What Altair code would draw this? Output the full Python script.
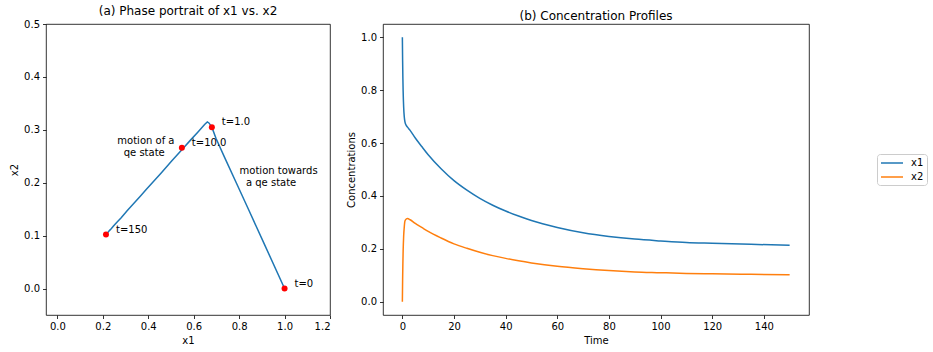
import altair as alt
import pandas as pd

# Time samples and concentration values
t = [0, 0.1, 0.2, 0.3, 0.5, 0.75, 1.0, 1.5, 2, 3, 5, 7.5, 10, 15, 20, 25, 30, 35,
     40, 45, 50, 60, 70, 80, 90, 100, 110, 120, 135, 150]
x1 = [1.0, 0.911, 0.845, 0.797, 0.736, 0.698, 0.68, 0.667, 0.66, 0.648, 0.619,
      0.587, 0.556, 0.503, 0.458, 0.422, 0.391, 0.365, 0.343, 0.324, 0.307,
      0.281, 0.261, 0.247, 0.237, 0.23, 0.224, 0.221, 0.217, 0.214]
x2 = [0.0, 0.084, 0.146, 0.191, 0.248, 0.284, 0.305, 0.313, 0.315, 0.310,
      0.296, 0.281, 0.266, 0.241, 0.219, 0.202, 0.187, 0.1745, 0.164, 0.155,
      0.147, 0.134, 0.125, 0.118, 0.113, 0.110, 0.107, 0.1055, 0.1037, 0.102]

# Marked points
mark_t = [0, 1.0, 10.0, 150]
mark_labels = ["t=0", "t=1.0", "t=10.0", "t=150"]

# Annotation lines
note_x = [0.264, 0.292, 0.802, 0.830]
note_y = [0.278, 0.256, 0.223, 0.199]
note_text = ["motion of a", "qe state", "motion towards", "a qe state"]

BLUE = "#1f77b4"
ORANGE = "#ff7f0e"
FONT = "DejaVu Sans"

df = pd.DataFrame({"t": t, "x1": x1, "x2": x2})
idx = [t.index(v) for v in mark_t]
marks = pd.DataFrame({"x1": [x1[i] for i in idx], "x2": [x2[i] for i in idx],
                      "label": mark_labels})
marks.loc[2, "x1"] = 0.548
notes = pd.DataFrame({"x": note_x, "y": note_y, "text": note_text})

xs = alt.Scale(domain=[-0.05, 1.2], nice=False, zero=False)
ys = alt.Scale(domain=[-0.05, 0.5], nice=False, zero=False)

xax = alt.Axis(values=[0, 0.2, 0.4, 0.6, 0.8, 1.0, 1.2], format=".1f", title="x1")
yax = alt.Axis(values=[0, 0.1, 0.2, 0.3, 0.4, 0.5], format=".1f", title="x2")

phase_line = alt.Chart(df).mark_line(color=BLUE, strokeWidth=1.5).encode(
    x=alt.X("x1:Q", scale=xs, axis=xax),
    y=alt.Y("x2:Q", scale=ys, axis=yax),
    order=alt.Order("t:Q"),
)
pts = alt.Chart(marks).mark_point(filled=True, color="red", size=36, opacity=1).encode(
    x=alt.X("x1:Q", scale=xs), y=alt.Y("x2:Q", scale=ys))
lbls = alt.Chart(marks).mark_text(align="left", baseline="middle", dx=10, dy=-5,
                                  fontSize=10, font=FONT, color="black").encode(
    x=alt.X("x1:Q", scale=xs), y=alt.Y("x2:Q", scale=ys), text="label:N")
note_marks = alt.Chart(notes).mark_text(align="left", baseline="middle",
                                        fontSize=10, font=FONT,
                                        color="black").encode(
    x=alt.X("x:Q", scale=xs), y=alt.Y("y:Q", scale=ys), text="text:N")

left = alt.layer(phase_line, pts, lbls, note_marks).properties(
    width=284, height=291, title="(a) Phase portrait of x1 vs. x2")

right = alt.Chart(df).transform_fold(["x1", "x2"], as_=["series", "value"]).mark_line(
    strokeWidth=1.5, interpolate="monotone").encode(
    x=alt.X("t:Q", scale=alt.Scale(domain=[-7.5, 157.5], nice=False, zero=False),
            axis=alt.Axis(values=list(range(0, 141, 20)), title="Time")),
    y=alt.Y("value:Q", scale=alt.Scale(domain=[-0.05, 1.05], nice=False, zero=False),
            axis=alt.Axis(values=[0, 0.2, 0.4, 0.6, 0.8, 1.0], format=".1f",
                          title="Concentrations")),
    color=alt.Color("series:N", scale=alt.Scale(domain=["x1", "x2"], range=[BLUE, ORANGE]),
                    legend=alt.Legend(title=None, orient="none", legendX=831, legendY=130,
                                      symbolType="M-1,0H3.4", symbolSize=100,
                                      symbolStrokeWidth=1.5, labelFontSize=10,
                                      labelFont=FONT, strokeColor="#cccccc",
                                      fillColor="white", padding=3, cornerRadius=3,
                                      rowPadding=3, labelOffset=19)),
).properties(width=426, height=291, title="(b) Concentration Profiles")

chart = alt.hconcat(left, right, spacing=53, bounds="flush").properties(
    padding={"left": 9, "top": 4, "right": 0, "bottom": 0},
).configure_view(stroke="black", strokeWidth=0.8).configure_axis(
    grid=False, domain=False, tickColor="black", tickSize=3.5, tickWidth=0.8,
    labelColor="black", labelFont=FONT, labelFontSize=10, labelPadding=3,
    titleFont=FONT, titleFontSize=10, titleFontWeight="normal", titleColor="black",
    titlePadding=4,
).configure_title(font=FONT, fontSize=12, fontWeight="normal", color="black",
                  offset=0, dy=3).configure_legend(labelColor="black")

chart.save("out.html", embed_options={"renderer": "svg", "actions": False})
